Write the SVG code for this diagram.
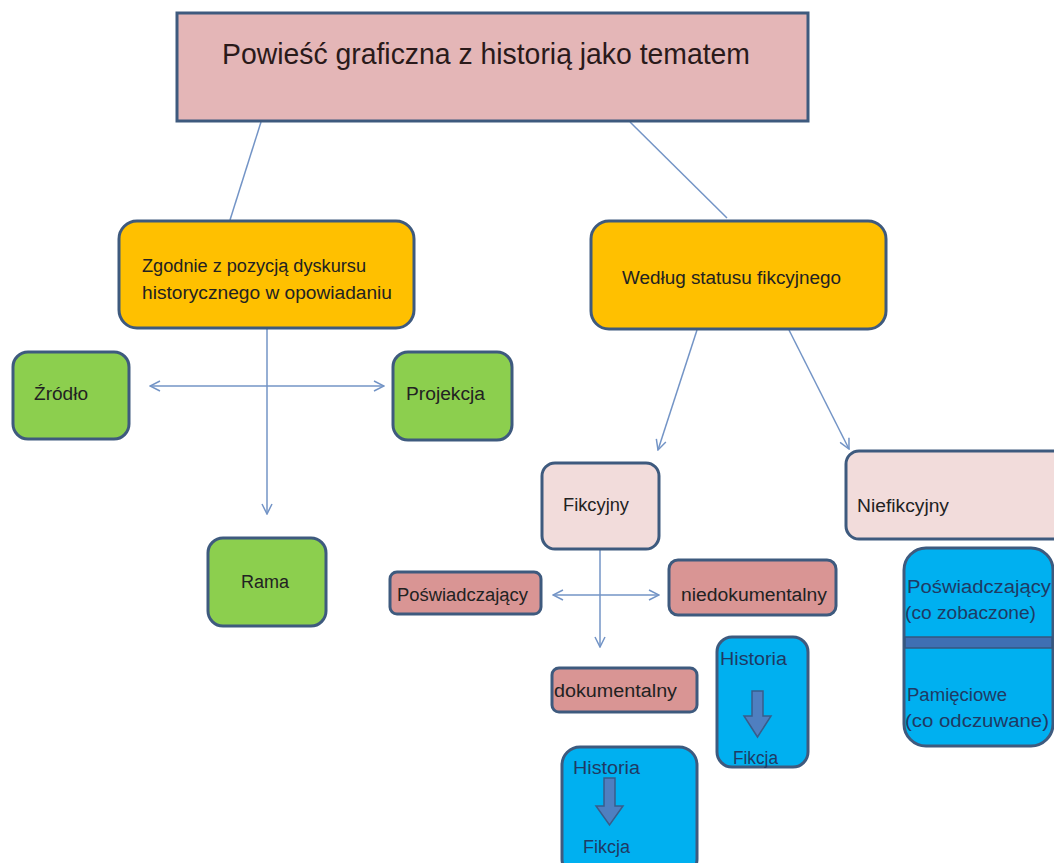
<svg xmlns="http://www.w3.org/2000/svg" width="1054" height="863" viewBox="0 0 1054 863">
<defs>
<marker id="arr" viewBox="0 0 12 12" refX="11" refY="6" markerWidth="12" markerHeight="12" markerUnits="userSpaceOnUse" orient="auto-start-reverse">
<path d="M1,1 L11,6 L1,11" fill="none" stroke="#7394c6" stroke-width="1.5"/>
</marker>
<style>
.t{font-family:"Liberation Sans",Arial,sans-serif;font-size:18px;fill:#222}
.tb{font-family:"Liberation Sans",Arial,sans-serif;font-size:18px;fill:#1f3a64}
.bx{stroke:#3e5a7e;stroke-width:3}
.title{fill:#e4b6b7}
.orange{fill:#ffc000}
.green{fill:#8ccf4e}
.pale{fill:#f2dcdb}
.rose{fill:#d99594}
.blue{fill:#00b0f0}
.con{stroke:#7394c6;stroke-width:1.5;fill:none}
.barr{fill:#4f7fc0;stroke:#385d8a;stroke-width:1.5}
</style>
</defs>
<rect width="1054" height="863" fill="#fff"/>
<g id="connectors">
<line class="con" x1="261" y1="122" x2="230" y2="220"/>
<line class="con" x1="630" y1="122" x2="727" y2="218"/>
<line class="con" x1="267" y1="329" x2="267" y2="514" marker-end="url(#arr)"/>
<line class="con" x1="150" y1="386" x2="384" y2="386" marker-start="url(#arr)" marker-end="url(#arr)"/>
<line class="con" x1="697" y1="330" x2="658" y2="450" marker-end="url(#arr)"/>
<line class="con" x1="789" y1="330" x2="849" y2="449" marker-end="url(#arr)"/>
<line class="con" x1="600" y1="549" x2="600" y2="647" marker-end="url(#arr)"/>
<line class="con" x1="553" y1="595" x2="659" y2="595" marker-start="url(#arr)" marker-end="url(#arr)"/>
</g>
<g id="n-title">
<rect class="bx title" x="177" y="13" width="631" height="108"/>
<text x="222" y="64" font-family="'Liberation Sans',Arial,sans-serif" font-size="30" fill="#2a1a1a" textLength="528" lengthAdjust="spacingAndGlyphs">Powieść graficzna z historią jako tematem</text>
</g>
<g id="n-zgodnie">
<rect class="bx orange" x="119" y="221" width="295" height="107" rx="18"/>
<text class="t" x="142" y="272" textLength="224" lengthAdjust="spacingAndGlyphs">Zgodnie z pozycją dyskursu</text>
<text class="t" x="142" y="299" textLength="250" lengthAdjust="spacingAndGlyphs">historycznego w  opowiadaniu</text>
</g>
<g id="n-wedlug">
<rect class="bx orange" x="591" y="221" width="295" height="108" rx="18"/>
<text class="t" x="622" y="284" textLength="219" lengthAdjust="spacingAndGlyphs">Według statusu fikcyjnego</text>
</g>
<g id="n-zrodlo">
<rect class="bx green" x="13" y="352" width="116" height="87" rx="15"/>
<text class="t" x="34" y="400" textLength="54" lengthAdjust="spacingAndGlyphs">Źródło</text>
</g>
<g id="n-projekcja">
<rect class="bx green" x="393" y="352" width="119" height="88" rx="15"/>
<text class="t" x="406" y="400" textLength="79" lengthAdjust="spacingAndGlyphs">Projekcja</text>
</g>
<g id="n-rama">
<rect class="bx green" x="208" y="538" width="118" height="88" rx="15"/>
<text class="t" x="241" y="588" textLength="48" lengthAdjust="spacingAndGlyphs">Rama</text>
</g>
<g id="n-fikcyjny">
<rect class="bx pale" x="542" y="463" width="117" height="86" rx="13"/>
<text class="t" x="563" y="511" textLength="66" lengthAdjust="spacingAndGlyphs">Fikcyjny</text>
</g>
<g id="n-niefikcyjny">
<rect class="bx pale" x="846" y="451" width="220" height="88" rx="13"/>
<text class="t" x="857" y="512" textLength="92" lengthAdjust="spacingAndGlyphs">Niefikcyjny</text>
</g>
<g id="n-poswiadczajacy">
<rect class="bx rose" x="390" y="572" width="151" height="42" rx="7"/>
<text class="t" x="397" y="601" textLength="131" lengthAdjust="spacingAndGlyphs">Poświadczający</text>
</g>
<g id="n-niedokumentalny">
<rect class="bx rose" x="669" y="560" width="167" height="55" rx="9"/>
<text class="t" x="681" y="601" textLength="146" lengthAdjust="spacingAndGlyphs">niedokumentalny</text>
</g>
<g id="n-dokumentalny">
<rect class="bx rose" x="552" y="668" width="145" height="44" rx="7"/>
<text class="t" x="554" y="697" textLength="123" lengthAdjust="spacingAndGlyphs">dokumentalny</text>
</g>
<g id="n-hf-right">
<rect class="bx blue" x="717" y="637" width="91" height="130" rx="15"/>
<text class="tb" x="720" y="665" textLength="67" lengthAdjust="spacingAndGlyphs">Historia</text>
<path class="barr" d="M752,691 H763 V716 H771 L757.5,737 L744,716 H752 Z"/>
<text class="tb" x="733" y="764" textLength="45" lengthAdjust="spacingAndGlyphs">Fikcja</text>
</g>
<g id="n-hf-bottom">
<rect class="bx blue" x="562" y="747" width="135" height="130" rx="18"/>
<text class="tb" x="573" y="774" textLength="67" lengthAdjust="spacingAndGlyphs">Historia</text>
<path class="barr" d="M604,778 H615 V806 H623 L609.5,825 L596,806 H604 Z"/>
<text class="tb" x="583" y="853" textLength="47" lengthAdjust="spacingAndGlyphs">Fikcja</text>
</g>
<g id="n-nonfiction-types">
<rect class="bx blue" x="904" y="548" width="149" height="198" rx="22"/>
<rect x="905" y="637" width="147" height="11" fill="#3f6fb3" stroke="#35577f" stroke-width="1.5"/>
<text class="tb" x="907" y="593" textLength="144" lengthAdjust="spacingAndGlyphs">Poświadczający</text>
<text class="tb" x="905" y="619" textLength="131" lengthAdjust="spacingAndGlyphs">(co zobaczone)</text>
<text class="tb" x="907" y="701" textLength="100" lengthAdjust="spacingAndGlyphs">Pamięciowe</text>
<text class="tb" x="905" y="727" textLength="144" lengthAdjust="spacingAndGlyphs">(co odczuwane)</text>
</g>
</svg>
